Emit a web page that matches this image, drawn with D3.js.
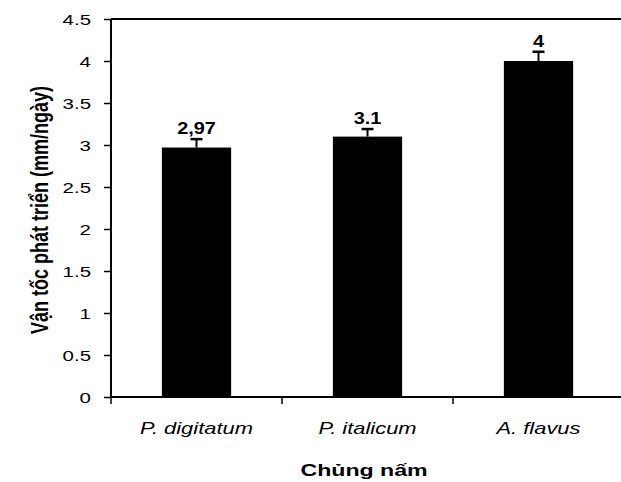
<!DOCTYPE html>
<html>
<head>
<meta charset="utf-8">
<script src="https://cdn.jsdelivr.net/npm/d3@7"></script>
<style>
  body { margin: 0; background: #fff; }
  text { font-family: "Liberation Sans", Arial, sans-serif; fill: #000; }
</style>
</head>
<body>
<script>
const categories = ["P. digitatum", "P. italicum", "A. flavus"];
const values = [2.97, 3.1, 4.0];
const errors = [0.1, 0.09, 0.11];
const valueLabels = ["2,97", "3.1", "4"];
const yTicks = [0, 0.5, 1, 1.5, 2, 2.5, 3, 3.5, 4, 4.5];

const W = 621, H = 482;
const mLeft = 111, mTop = 19, mBottom = 397, mRight = 624;

const svg = d3.select("body").append("svg")
  .attr("width", W).attr("height", H);

const x = d3.scaleBand().domain(categories).range([mLeft, mRight]).paddingInner(0.595).paddingOuter(0.2975);
const xb = d3.scaleBand().domain(categories).range([mLeft, mRight]);
const y = d3.scaleLinear().domain([0, 4.5]).range([mBottom, mTop]);

// plot border (top line)
svg.append("line")
  .attr("x1", mLeft).attr("x2", W + 5)
  .attr("y1", y(4.5)).attr("y2", y(4.5))
  .attr("stroke", "#000").attr("stroke-width", 2);

// bars
svg.selectAll("rect.bar").data(values).enter().append("rect")
  .attr("x", (d, i) => x(categories[i]))
  .attr("width", x.bandwidth())
  .attr("y", d => y(d))
  .attr("height", d => y(0) - y(d))
  .attr("fill", "#000");

// error bars
const eb = svg.selectAll("g.err").data(values).enter().append("g");
eb.append("line")
  .attr("x1", (d, i) => x(categories[i]) + x.bandwidth() / 2)
  .attr("x2", (d, i) => x(categories[i]) + x.bandwidth() / 2)
  .attr("y1", d => y(d))
  .attr("y2", (d, i) => y(d + errors[i]))
  .attr("stroke", "#000").attr("stroke-width", 2);
eb.append("line")
  .attr("x1", (d, i) => x(categories[i]) + x.bandwidth() / 2 - 6)
  .attr("x2", (d, i) => x(categories[i]) + x.bandwidth() / 2 + 6)
  .attr("y1", (d, i) => y(d + errors[i]))
  .attr("y2", (d, i) => y(d + errors[i]))
  .attr("stroke", "#000").attr("stroke-width", 2.5);

// value labels (text in the picture is stretched sideways)
svg.selectAll("text.val").data(values).enter().append("text")
  .attr("transform", (d, i) => `translate(${x(categories[i]) + x.bandwidth() / 2},${y(d + errors[i]) - 5}) scale(1.17,1)`)
  .attr("text-anchor", "middle")
  .attr("font-size", "17px").attr("font-weight", "bold")
  .text((d, i) => valueLabels[i]);

// y axis
const yAxis = svg.append("g")
  .attr("transform", `translate(${mLeft},0)`)
  .call(d3.axisLeft(y).tickValues(yTicks).tickSize(7).tickFormat(d3.format("")));
yAxis.select(".domain").attr("stroke-width", 2).attr("d", `M0,${mTop}V${mBottom}`);
yAxis.selectAll(".tick line").attr("stroke-width", 1.5);
yAxis.selectAll(".tick text")
  .attr("x", null).attr("dy", "0.36em")
  .attr("transform", "translate(-20,0) scale(1.32,1)")
  .attr("font-size", "15.5px").attr("fill", "#000")
  .attr("font-family", "Liberation Sans, Arial, sans-serif");

// x axis
const xAxis = svg.append("g")
  .attr("transform", `translate(0,${mBottom})`)
  .call(d3.axisBottom(xb).tickSize(0));
xAxis.select(".domain").attr("stroke-width", 2).attr("d", `M${mLeft},0H${W + 5}`);
xAxis.selectAll(".tick text")
  .attr("y", null).attr("dy", null)
  .attr("transform", "translate(0,37) scale(1.37,1)")
  .attr("font-size", "16px").attr("font-style", "italic").attr("fill", "#000")
  .attr("font-family", "Liberation Sans, Arial, sans-serif");
svg.selectAll("line.xtick").data(categories).enter().append("line")
  .attr("x1", d => xb(d)).attr("x2", d => xb(d))
  .attr("y1", mBottom).attr("y2", mBottom + 7)
  .attr("stroke", "#000").attr("stroke-width", 1.5);

// axis titles
svg.append("text")
  .attr("transform", "translate(364,476) scale(1.36,1)")
  .attr("text-anchor", "middle")
  .attr("font-size", "17px").attr("font-weight", "bold")
  .text("Chủng nấm");

svg.append("text")
  .attr("transform", "translate(48,210) scale(1.3,1) rotate(-90)")
  .attr("text-anchor", "middle")
  .attr("font-size", "18px").attr("font-weight", "bold")
  .text("Vận tốc phát triển (mm/ngày)");
</script>
</body>
</html>
